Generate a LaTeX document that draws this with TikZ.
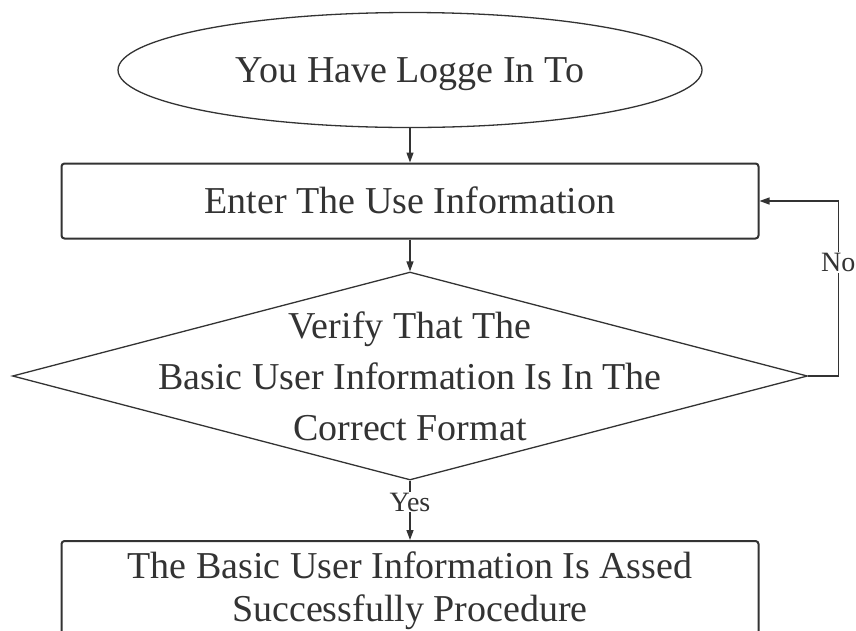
\documentclass[tikz,border=0pt]{standalone}
\usepackage{fontspec}
\setmainfont{Liberation Serif}
\usetikzlibrary{shapes.geometric,arrows.meta}
\begin{document}
\begin{tikzpicture}[x=1pt,y=-1pt,
  ink/.style={draw=black!80},
  thin line/.style={ink, line width=1.3pt},
  arr/.style={thin line, -{Triangle[length=10pt,width=7pt]}},
  maintext/.style={font=\fontsize{38}{51}\selectfont, text=black!80, align=center},
  startnode/.style={ellipse, thin line, maintext, minimum width=584pt, minimum height=115pt, inner sep=0pt, text height=25pt, text depth=0pt},
  procbox/.style={rectangle, ink, line width=2pt, rounded corners=3pt, maintext, minimum width=697pt},
  decision/.style={diamond, thin line, minimum width=795pt, minimum height=208pt, inner sep=0pt},
  lbl/.style={font=\fontsize{28}{32}\selectfont, text=black!80, fill=white, inner sep=1pt}]
\useasboundingbox (0,0) rectangle (856,630);
\clip (0,0) rectangle (856,630);

\node[startnode] (start) at (410,70) {You Have Logge In To};
\node[procbox, minimum height=75pt, text height=25pt, text depth=0pt, inner sep=0pt] (enter) at (410,201) {Enter The Use Information};
\node[decision] (verify) at (410,376) {};
\node[maintext, inner sep=0pt] (verifytext) at (410,376) {Verify That The\\Basic User Information Is In The\\Correct Format};
\node[procbox, font=\fontsize{38}{43}\selectfont, anchor=north, inner xsep=0pt, inner ysep=11pt] (passed) at (410,540) {The Basic User Information Is Assed\\Successfully Procedure};

\draw[arr] (start) -- (enter);
\draw[arr] (enter) -- (verify.north);
\draw[arr] (verify.south) -- (passed.north) node[lbl, pos=0.36] (yes) {Yes};
\draw[arr] (verify.east) -- ++(30,0) |- (enter.east) node[lbl, pos=0.324] (no) {No};
\end{tikzpicture}
\end{document}
